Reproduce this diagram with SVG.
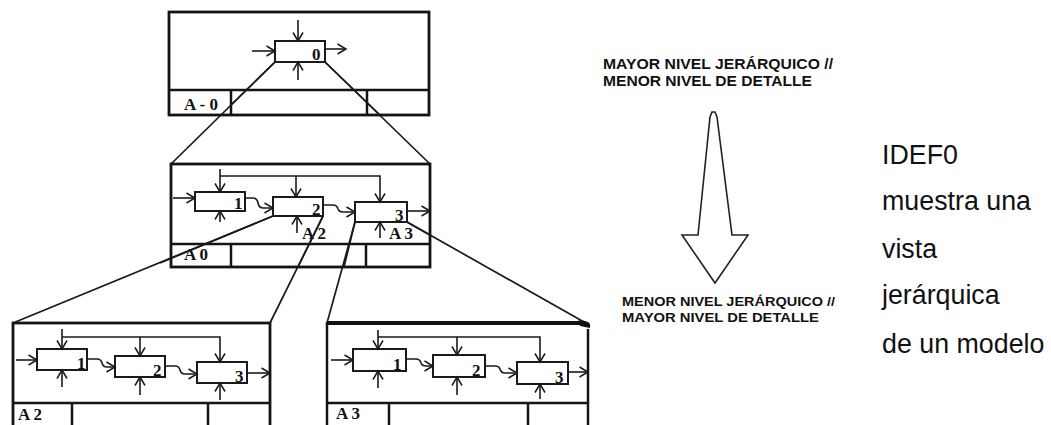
<svg xmlns="http://www.w3.org/2000/svg" width="1051" height="425" viewBox="0 0 1051 425">
<defs>
<style>
.frame{fill:none;stroke:#141414;stroke-width:2.8}
.div{stroke:#141414;stroke-width:2.5}
.box{fill:none;stroke:#1a1a1a;stroke-width:2}
.arr{fill:none;stroke:#1a1a1a;stroke-width:1.6;marker-end:url(#ah)}
.con{fill:none;stroke:#1a1a1a;stroke-width:1.7}
.num{font-family:"Liberation Serif","Times New Roman",serif;font-weight:bold;font-size:17px;fill:#111}
.lab{font-family:"Liberation Serif","Times New Roman",serif;font-weight:bold;font-size:17px;fill:#111}
.cap{font-family:"Liberation Sans",Arial,sans-serif;font-weight:bold;fill:#111}
.side{font-family:"Liberation Sans",Arial,sans-serif;font-size:26.8px;fill:#111}
</style>
<marker id="ah" markerWidth="12" markerHeight="12" refX="10" refY="6" orient="auto" markerUnits="userSpaceOnUse">
<path d="M1.5,1 L10,6 L1.5,11" fill="none" stroke="#1a1a1a" stroke-width="1.5"/>
</marker>
</defs>
<rect width="1051" height="425" fill="#ffffff"/>

<g id="connectors">
<line class="con" x1="275" y1="62" x2="171" y2="164"/>
<line class="con" x1="325" y1="62" x2="430" y2="164"/>
<line class="con" x1="273" y1="216" x2="13" y2="323"/>
<line class="con" x1="323" y1="216" x2="270" y2="323"/>
<line class="con" x1="355" y1="222" x2="327" y2="323"/>
<line class="con" x1="407" y1="222" x2="584" y2="322"/>
</g>

<g id="frame-A-0">
<rect x="169" y="12" width="260" height="103" fill="#fff" class="frame"/>
<line class="div" x1="169" y1="90" x2="429" y2="90"/>
<line class="div" x1="231" y1="90" x2="231" y2="115"/>
<line class="div" x1="367" y1="90" x2="367" y2="115"/>
<text class="lab" x="184" y="110">A - 0</text>
<rect class="box" x="275" y="41" width="50" height="21"/>
<text class="num" x="312" y="60">0</text>
<line class="arr" x1="252" y1="51" x2="275" y2="51"/>
<line class="arr" x1="298" y1="20" x2="298" y2="41"/>
<line class="arr" x1="298" y1="80" x2="298" y2="62"/>
<line class="arr" x1="325" y1="49" x2="346" y2="49"/>
</g>
<line class="con" x1="275" y1="62" x2="231" y2="105"/>
<line class="con" x1="325" y1="62" x2="380" y2="115"/>

<g id="frame-A0">
<rect x="171" y="164" width="259" height="103" fill="#fff" class="frame"/>
<line class="div" x1="171" y1="244" x2="430" y2="244"/>
<line class="div" x1="231" y1="244" x2="231" y2="267"/>
<line class="div" x1="366" y1="244" x2="366" y2="267"/>
<text class="lab" x="184" y="260">A 0</text>
<rect class="box" x="195" y="192" width="50" height="19"/>
<rect class="box" x="273" y="197" width="50" height="19"/>
<rect class="box" x="355" y="202" width="52" height="20"/>
<text class="num" x="234" y="209">1</text>
<text class="num" x="312" y="215">2</text>
<text class="num" x="395" y="221">3</text>
<line class="arr" x1="220" y1="169" x2="220" y2="192"/>
<path class="arr" d="M220,176 H380 V202"/>
<line class="arr" x1="296" y1="176" x2="296" y2="197"/>
<line class="arr" x1="173" y1="198" x2="195" y2="198"/>
<line class="arr" x1="220" y1="222" x2="220" y2="211"/>
<path class="arr" d="M245,198 H253 Q257,198 258,203 Q259,208 263,208 H273"/>
<line class="arr" x1="297" y1="233" x2="297" y2="216"/>
<path class="arr" d="M323,205 H333 Q337,205 338,209 Q339,212 343,212 H355"/>
<line class="arr" x1="380" y1="238" x2="380" y2="222"/>
<line class="arr" x1="407" y1="211" x2="430" y2="211"/>
<text class="lab" x="302" y="239">A 2</text>
<text class="lab" x="389" y="239">A 3</text>
</g>
<line class="con" x1="273" y1="216" x2="160" y2="263"/>
<line class="con" x1="323" y1="216" x2="298" y2="267"/>
<line class="con" x1="355" y1="222" x2="344" y2="267"/>
<line class="con" x1="407" y1="222" x2="430" y2="235"/>

<g id="frame-A2">
<rect x="13" y="323" width="257" height="115" fill="#fff" class="frame"/>
<line class="div" x1="13" y1="403" x2="270" y2="403"/>
<line class="div" x1="72" y1="403" x2="72" y2="430"/>
<line class="div" x1="208" y1="403" x2="208" y2="430"/>
<text class="lab" x="18" y="420">A 2</text>
<rect class="box" x="37" y="349" width="50" height="21"/>
<rect class="box" x="115" y="356" width="50" height="21"/>
<rect class="box" x="197" y="362" width="50" height="21"/>
<text class="num" x="77" y="369">1</text>
<text class="num" x="153" y="376">2</text>
<text class="num" x="235" y="382">3</text>
<line class="arr" x1="62" y1="329" x2="62" y2="349"/>
<path class="arr" d="M62,337 H220 V362"/>
<line class="arr" x1="140" y1="337" x2="140" y2="356"/>
<line class="arr" x1="16" y1="360" x2="37" y2="360"/>
<line class="arr" x1="62" y1="387" x2="62" y2="370"/>
<line class="arr" x1="140" y1="395" x2="140" y2="377"/>
<line class="arr" x1="220" y1="400" x2="220" y2="383"/>
<path class="arr" d="M87,359 H97 Q101,359 102,363 Q103,367 107,367 H115"/>
<path class="arr" d="M165,366 H175 Q179,366 180,370 Q181,374 185,374 H197"/>
<line class="arr" x1="247" y1="373" x2="270" y2="373"/>
</g>

<g id="frame-A3">
<rect x="327" y="323" width="261" height="115" fill="#fff" stroke="none"/>
<line x1="327" y1="323" x2="582" y2="323" stroke="#111" stroke-width="3.8"/>
<path d="M578,320.5 Q588,320 590,324 L590,328 L580,326 Z" fill="#111"/>
<line class="div" x1="327" y1="322" x2="327" y2="438"/>
<line class="div" x1="588" y1="329" x2="588" y2="438"/>
<line class="div" x1="327" y1="403" x2="588" y2="403"/>
<line class="div" x1="389" y1="403" x2="389" y2="430"/>
<line class="div" x1="528" y1="403" x2="528" y2="430"/>
<text class="lab" x="336" y="419">A 3</text>
<rect class="box" x="353" y="349" width="53" height="22"/>
<rect class="box" x="433" y="355" width="52" height="22"/>
<rect class="box" x="517" y="362" width="51" height="22"/>
<text class="num" x="393" y="370">1</text>
<text class="num" x="472" y="376">2</text>
<text class="num" x="555" y="383">3</text>
<line class="arr" x1="378" y1="330" x2="378" y2="349"/>
<path class="arr" d="M378,337 H540 V362"/>
<line class="arr" x1="457" y1="337" x2="457" y2="355"/>
<line class="arr" x1="331" y1="360" x2="353" y2="360"/>
<line class="arr" x1="378" y1="388" x2="378" y2="371"/>
<line class="arr" x1="457" y1="395" x2="457" y2="377"/>
<line class="arr" x1="540" y1="399" x2="540" y2="384"/>
<path class="arr" d="M406,359 H416 Q420,359 421,363 Q422,366 426,366 H433"/>
<path class="arr" d="M485,366 H495 Q499,366 500,369 Q501,373 505,373 H517"/>
<line class="arr" x1="568" y1="372" x2="588" y2="372"/>
</g>

<g id="hierarchy-arrow">
<text class="cap" font-size="14" x="603" y="69" textLength="230" lengthAdjust="spacingAndGlyphs">MAYOR NIVEL JERÁRQUICO //</text>
<text class="cap" font-size="14" x="603" y="86" textLength="209" lengthAdjust="spacingAndGlyphs">MENOR NIVEL DE DETALLE</text>
<polygon points="710,117 712,112 715,112 717,117 732,235 748,235 715,283 682,235 698,235" fill="#fff" stroke="#222" stroke-width="1.6" stroke-linejoin="miter"/>
<text class="cap" font-size="13" x="622" y="306" textLength="213" lengthAdjust="spacingAndGlyphs">MENOR NIVEL JERÁRQUICO //</text>
<text class="cap" font-size="13" x="622" y="322" textLength="197" lengthAdjust="spacingAndGlyphs">MAYOR NIVEL DE DETALLE</text>
</g>

<g id="side-text">
<text class="side" x="882" y="164">IDEF0</text>
<text class="side" x="882" y="210">muestra una</text>
<text class="side" x="882" y="258">vista</text>
<text class="side" x="882" y="304">jerárquica</text>
<text class="side" x="882" y="353">de un modelo</text>
</g>
</svg>
